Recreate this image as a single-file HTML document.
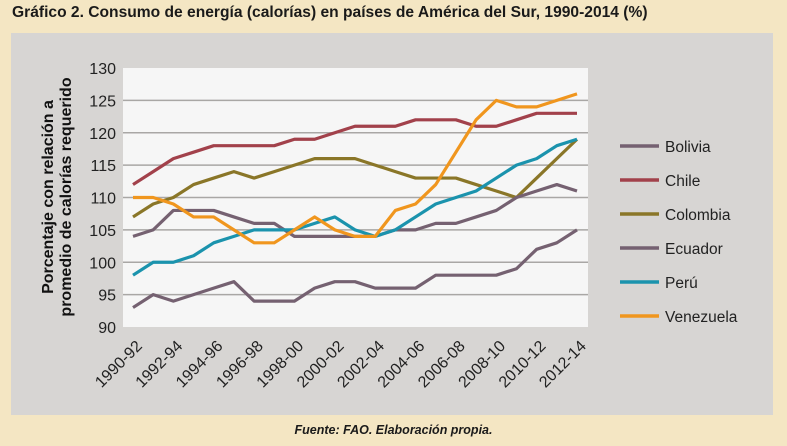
<!DOCTYPE html>
<html><head><meta charset="utf-8"><style>
body{margin:0;width:787px;height:446px;background:#f4e6c3;font-family:"Liberation Sans",sans-serif;overflow:hidden;position:relative}
#title{position:absolute;left:12px;top:4px;font-weight:bold;font-size:15.6px;color:#1a1a1a;white-space:nowrap}
#panel{position:absolute;left:11px;top:33px;width:762px;height:382px;background:#d7d5d3}
#foot{position:absolute;left:0;width:787px;top:423px;text-align:center;font:italic bold 12.5px "Liberation Sans",sans-serif;color:#1a1a1a}
svg{position:absolute;left:0;top:0}
</style></head><body>
<div id="title">Gráfico 2. Consumo de energía (calorías) en países de América del Sur, 1990-2014 (%)</div>
<div id="panel"></div>
<svg id="chart" width="787" height="446"></svg>
<div id="foot">Fuente: FAO. Elaboración propia.</div>
<script>
const categories=["1990-92","1991-93","1992-94","1993-95","1994-96","1995-97","1996-98","1997-99","1998-00","1999-01","2000-02","2001-03","2002-04","2003-05","2004-06","2005-07","2006-08","2007-09","2008-10","2009-11","2010-12","2011-13","2012-14"];
const seriesNames=["Bolivia","Chile","Colombia","Ecuador","Perú","Venezuela"];
const seriesColors=["#756171","#a2414b","#8a7628","#756171","#1b93ad","#f0961e"];
const bolivia=[93,95,94,95,96,97,94,94,94,96,97,97,96,96,96,98,98,98,98,99,102,103,105];
const chile=[112,114,116,117,118,118,118,118,119,119,120,121,121,121,122,122,122,121,121,122,123,123,123];
const colombia=[107,109,110,112,113,114,113,114,115,116,116,116,115,114,113,113,113,112,111,110,113,116,119];
const ecuador=[104,105,108,108,108,107,106,106,104,104,104,104,104,105,105,106,106,107,108,110,111,112,111];
const peru=[98,100,100,101,103,104,105,105,105,106,107,105,104,105,107,109,110,111,113,115,116,118,119];
const venezuela=[110,110,109,107,107,105,103,103,105,107,105,104,104,108,109,112,117,122,125,124,124,125,126];
const yTicks=[90,95,100,105,110,115,120,125,130];
const allSeries=[bolivia,chile,colombia,ecuador,peru,venezuela];
const NS="http://www.w3.org/2000/svg";
const svg=document.getElementById('chart');
const px0=123,px1=588,py0=68,py1=327;
const x=i=>133+i*(577-133)/(categories.length-1);
const y=v=>py1-(v-90)*(py1-py0)/40;
function mk(t,a){const e=document.createElementNS(NS,t);for(const k in a)e.setAttribute(k,a[k]);svg.appendChild(e);return e;}
let r=mk('rect',{x:px0,y:py0,width:px1-px0,height:py1-py0,fill:'#f6f6f6'});


yTicks.forEach(t=>{
  if(t>90&&t<130){const g=mk('line',{x1:px0,x2:px1,y1:y(t),y2:y(t),stroke:'#a9a7a5','stroke-width':1.6});
  
  }
  const l=mk('text',{x:116,y:y(t)+6,'text-anchor':'end','font-size':16,fill:'#222','font-family':'Liberation Sans, sans-serif'});
  l.textContent=t;
  
  
});
categories.forEach((c,i)=>{
  if(i%2)return;
  const t=mk('text',{transform:`translate(${x(i)+10},${py1+20}) rotate(-45)`,'text-anchor':'end','font-size':16,fill:'#222','font-family':'Liberation Sans, sans-serif'});
  t.textContent=c;
  
  
});
const yt=mk('text',{transform:'translate(56,197) rotate(-90)','text-anchor':'middle','font-size':16,'font-weight':'bold',fill:'#111','font-family':'Liberation Sans, sans-serif'});
yt.innerHTML='<tspan x="0" dy="-3">Porcentaje con relación a</tspan><tspan x="0" dy="18">promedio de calorías requerido</tspan>';


allSeries.forEach((s,k)=>{
  const p=mk('polyline',{points:s.map((v,i)=>x(i)+','+y(v)).join(' '),fill:'none',stroke:seriesColors[k],'stroke-width':3.2,'stroke-linejoin':'round'});
  
  
  const ly=146+k*34;
  const ll=mk('line',{x1:620,x2:659,y1:ly,y2:ly,stroke:seriesColors[k],'stroke-width':3.5});
  
  
  const lt=mk('text',{x:665,y:ly+6,'font-size':15.5,fill:'#222','font-family':'Liberation Sans, sans-serif'});
  lt.textContent=seriesNames[k];
  
  
});
</script>
</body></html>
